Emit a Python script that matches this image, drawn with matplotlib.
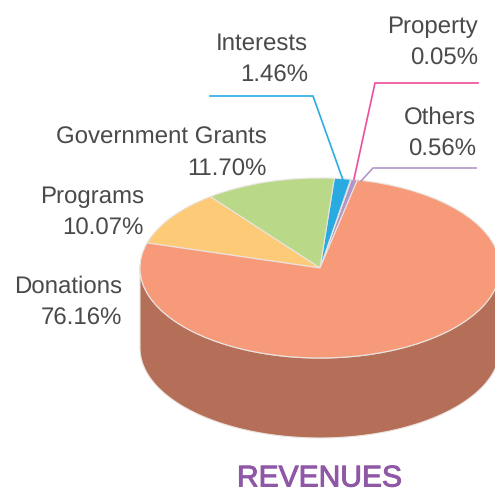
import numpy as np
import matplotlib
matplotlib.use("Agg")
import matplotlib.pyplot as plt
import matplotlib.patheffects as pe
from matplotlib.patches import Wedge, Polygon
from matplotlib.transforms import Affine2D

# counter clockwise from the top right
categories = ["Others", "Property", "Interests", "Government Grants", "Programs", "Donations"]
percent = [0.56, 0.05, 1.46, 11.70, 10.07, 76.16]
title = "REVENUES"

colors = ["#b097c8", "#ee4d9b", "#29abe2", "#bad988", "#fdcb78", "#f79a7a"]
side_color = "#b56f59"
edge_color = "#e9e4df"
text_color = "#4a4a4a"

# layout in image pixels
cx, cy, rx, ry, depth = 320, 268, 180, 90, 80
start_angle = 78
label_pos = {
    "Others": (476, 124),
    "Property": (478, 33),
    "Interests": (308, 50),
    "Government Grants": (267, 144),
    "Programs": (144, 203),
    "Donations": (122, 293),
}
leaders = {
    "Others": [(476, 168), (373, 168), (361, 181)],
    "Property": [(478, 83), (375, 83), (354, 179)],
    "Interests": [(210, 96), (313, 96), (343, 180)],
}

plt.rcParams["font.family"] = ["Liberation Sans", "DejaVu Sans"]
plt.rcParams["text.hinting"] = "no_hinting"
plt.rcParams["text.hinting_factor"] = 1
fig = plt.figure(figsize=(4.95, 4.88), dpi=100)
ax = fig.add_axes([0, 0, 1, 1])
ax.set_xlim(0, 495)
ax.set_ylim(488, 0)
ax.axis("off")

# side wall, only the front half of the ellipse shows
t = np.radians(np.linspace(180, 360, 200))
arc_x = cx + rx * np.cos(t)
arc_y = cy - ry * np.sin(t)
wall = np.column_stack([np.r_[arc_x, arc_x[::-1]], np.r_[arc_y + depth, arc_y[::-1]]])
ax.add_patch(Polygon(wall, closed=True, fc=side_color, ec=edge_color, lw=0.8, zorder=1))

# top face: unit wedges squashed into the ellipse
squash = Affine2D().scale(rx, -ry).translate(cx, cy) + ax.transData
angle = start_angle
for cat, val, col in zip(categories, percent, colors):
    sweep = val / sum(percent) * 360
    ax.add_patch(Wedge((0, 0), 1, angle, angle + sweep, fc=col, ec=edge_color, lw=0.8,
                       transform=squash, zorder=2))
    angle += sweep

for cat, pts in leaders.items():
    col = colors[categories.index(cat)]
    xs, ys = zip(*pts)
    ax.plot(xs, ys, color=col, lw=1.2, zorder=3, solid_joinstyle="miter")

for cat, val in zip(categories, percent):
    x, y = label_pos[cat]
    ax.text(x, y, cat, ha="right", va="baseline", fontsize=17.4, color=text_color)
    ax.text(x, y + 32, "%.2f%%" % val, ha="right", va="baseline", fontsize=17.4, color=text_color)

# regular face with a thin stroke, the original is a medium weight
ax.text(319.5, 486.5, title, ha="center", va="baseline", fontsize=21.6, color="#8f57a5",
        path_effects=[pe.withStroke(linewidth=0.7, foreground="#8f57a5")])

fig.savefig("out.png", dpi=100)
